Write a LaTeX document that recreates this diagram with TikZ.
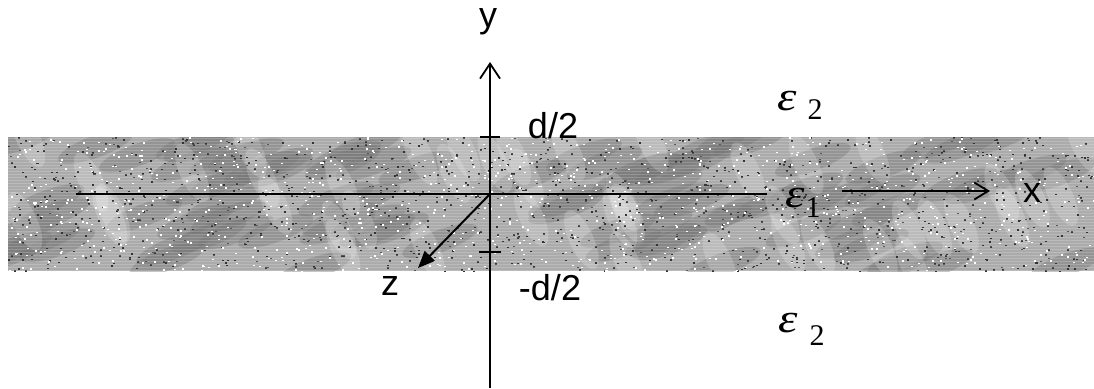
\documentclass[tikz,border=0pt]{standalone}
\usepackage{fontspec}
\setmainfont{Liberation Sans}
\newfontfamily\serifgr{Liberation Serif}
\usetikzlibrary{arrows.meta}
\tikzset{
  axis/.style={line width=2pt, black},
  xaxis/.style={line width=2.4pt, black},
  tick/.style={line width=1.8pt, black},
  lbl/.style={inner sep=0pt, font=\fontsize{36}{36}\selectfont},
  eps/.style={inner sep=0pt},
}
\newcommand{\epsl}{\scalebox{1.2}[1]{\serifgr\itshape\fontsize{41}{41}\selectfont ε}}
\newcommand{\subn}[1]{{\serifgr\fontsize{30}{30}\selectfont #1}}
\begin{document}
\begin{tikzpicture}[x=1pt,y=-1pt]
\useasboundingbox (0,0) rectangle (1094,388);
% textured band
\begin{scope}
\clip (8,137) rectangle (1094,271);
\fill[black!33] (8,137) rectangle (1094,271);
\pgfmathsetseed{11}
\foreach \i in {1,...,90}{
  \pgfmathsetmacro\xx{8+1086*rnd}
  \pgfmathsetmacro\yy{137+134*rnd}
  \fill[black!55,opacity=0.4,rotate around={20:(\xx,\yy)}] (\xx,\yy) ellipse (40 and 11);
}
\foreach \i in {1,...,45}{
  \pgfmathsetmacro\xx{8+1086*rnd}
  \pgfmathsetmacro\yy{137+134*rnd}
  \fill[white,opacity=0.2,rotate around={-65:(\xx,\yy)}] (\xx,\yy) ellipse (32 and 12);
}
\foreach \i in {1,...,1400}{
  \pgfmathsetmacro\xx{8+1086*rnd}
  \pgfmathsetmacro\yy{137+134*rnd}
  \fill[black!80] (\xx,\yy) rectangle ++(2,1.5);
}
\foreach \i in {1,...,1100}{
  \pgfmathsetmacro\xx{8+1086*rnd}
  \pgfmathsetmacro\yy{137+134*rnd}
  \fill[white] (\xx,\yy) rectangle ++(2,1.5);
}
\foreach \k in {0,...,44}{
  \draw[white,opacity=0.18,line width=0.8pt] (8,138+3*\k) -- (1094,138+3*\k);
}
\end{scope}
% coordinates
\coordinate (O) at (490,194);
\coordinate (ybot) at (490,388);
\coordinate (ytop) at (490,62);
\coordinate (xl) at (76,194);
\coordinate (xm) at (767,194);
\coordinate (xa) at (842,191);
\coordinate (xr) at (990,191);
\coordinate (zend) at (418,268);
\coordinate (t1a) at (480,137);
\coordinate (t1b) at (500,137);
\coordinate (t2a) at (479,252);
\coordinate (t2b) at (501,252);
% axes
\draw[axis,-{Straight Barb[length=15pt,width=20pt,line width=1.8pt]}] (ybot) -- (ytop);
\draw[xaxis] (xl) -- (xm);
\draw[xaxis,-{Straight Barb[length=14pt,width=17pt,line width=1.8pt]}] (xa) -- (xr);
\draw[axis,-{Triangle[length=17pt,width=14pt]}] (O) -- (zend);
\draw[tick] (t1a) -- (t1b);
\draw[tick] (t2a) -- (t2b);
% labels
\node[lbl] (ly) at (488,22) {y};
\node[lbl] (lx) at (1032,193) {x};
\node[lbl] (lz) at (390,286) {z};
\node[lbl] (ld) at (553,126) {d/2};
\node[lbl] (lmd) at (550,288) {-d/2};
% permittivities
\node[eps] (e2t) at (787,101) {\epsl};
\node[eps] (e2ts) at (815,110) {\subn{2}};
\node[eps] (e1) at (795,198) {\epsl};
\node[eps] (e1s) at (813,208) {\subn{1}};
\node[eps] (e2b) at (788,323) {\epsl};
\node[eps] (e2bs) at (817,336) {\subn{2}};
\end{tikzpicture}
\end{document}
